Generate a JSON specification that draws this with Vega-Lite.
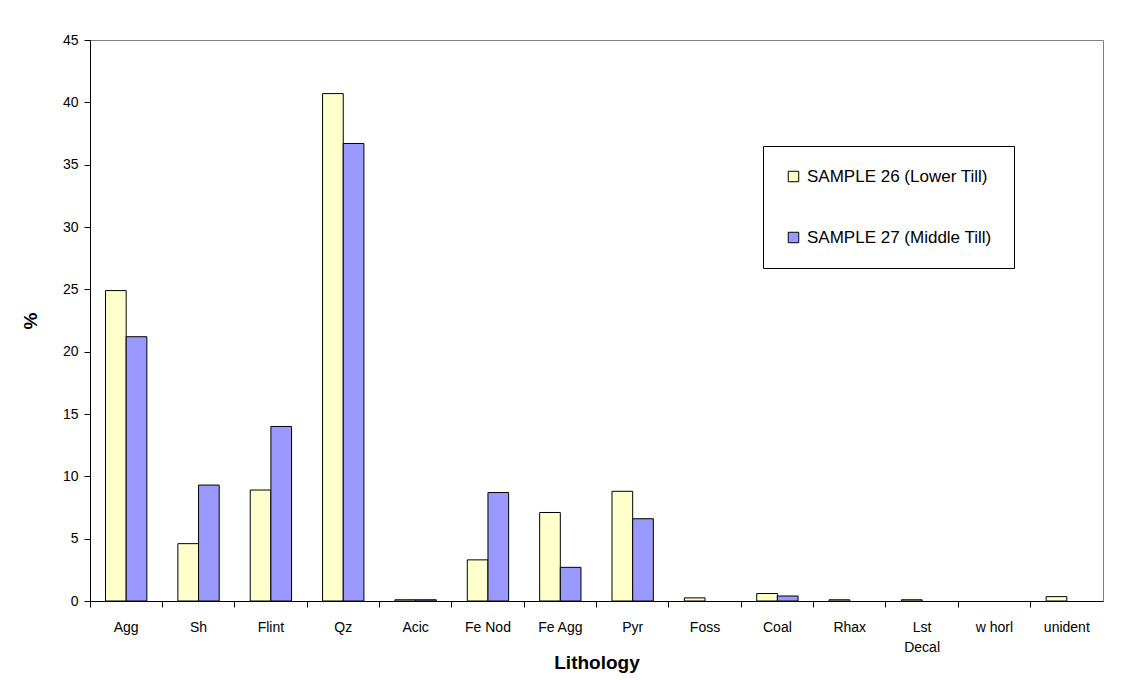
{
  "$schema": "https://vega.github.io/schema/vega-lite/v6.json",
  "autosize": "none",
  "width": 1013,
  "height": 561,
  "padding": {"left": 90, "top": 40, "right": 21, "bottom": 79},
  "background": "white",
  "config": {
    "font": "Liberation Sans",
    "view": {"stroke": "#808080", "strokeWidth": 1},
    "axis": {"labelColor": "black", "domainColor": "black", "tickColor": "black", "titleColor": "black", "grid": false, "labelFont": "Liberation Sans", "titleFont": "Liberation Sans"}
  },
  "data": {
    "values": [
      {"lith": "Agg", "sample": "SAMPLE 26 (Lower Till)", "pct": 24.9},
      {"lith": "Agg", "sample": "SAMPLE 27 (Middle Till)", "pct": 21.2},
      {"lith": "Sh", "sample": "SAMPLE 26 (Lower Till)", "pct": 4.6},
      {"lith": "Sh", "sample": "SAMPLE 27 (Middle Till)", "pct": 9.3},
      {"lith": "Flint", "sample": "SAMPLE 26 (Lower Till)", "pct": 8.9},
      {"lith": "Flint", "sample": "SAMPLE 27 (Middle Till)", "pct": 14.0},
      {"lith": "Qz", "sample": "SAMPLE 26 (Lower Till)", "pct": 40.7},
      {"lith": "Qz", "sample": "SAMPLE 27 (Middle Till)", "pct": 36.7},
      {"lith": "Acic", "sample": "SAMPLE 26 (Lower Till)", "pct": 0.1},
      {"lith": "Acic", "sample": "SAMPLE 27 (Middle Till)", "pct": 0.1},
      {"lith": "Fe Nod", "sample": "SAMPLE 26 (Lower Till)", "pct": 3.3},
      {"lith": "Fe Nod", "sample": "SAMPLE 27 (Middle Till)", "pct": 8.7},
      {"lith": "Fe Agg", "sample": "SAMPLE 26 (Lower Till)", "pct": 7.1},
      {"lith": "Fe Agg", "sample": "SAMPLE 27 (Middle Till)", "pct": 2.7},
      {"lith": "Pyr", "sample": "SAMPLE 26 (Lower Till)", "pct": 8.8},
      {"lith": "Pyr", "sample": "SAMPLE 27 (Middle Till)", "pct": 6.6},
      {"lith": "Foss", "sample": "SAMPLE 26 (Lower Till)", "pct": 0.25},
      {"lith": "Foss", "sample": "SAMPLE 27 (Middle Till)", "pct": 0},
      {"lith": "Coal", "sample": "SAMPLE 26 (Lower Till)", "pct": 0.6},
      {"lith": "Coal", "sample": "SAMPLE 27 (Middle Till)", "pct": 0.4},
      {"lith": "Rhax", "sample": "SAMPLE 26 (Lower Till)", "pct": 0.1},
      {"lith": "Rhax", "sample": "SAMPLE 27 (Middle Till)", "pct": 0},
      {"lith": "Lst Decal", "sample": "SAMPLE 26 (Lower Till)", "pct": 0.1},
      {"lith": "Lst Decal", "sample": "SAMPLE 27 (Middle Till)", "pct": 0},
      {"lith": "w horl", "sample": "SAMPLE 26 (Lower Till)", "pct": 0},
      {"lith": "w horl", "sample": "SAMPLE 27 (Middle Till)", "pct": 0},
      {"lith": "unident", "sample": "SAMPLE 26 (Lower Till)", "pct": 0.35},
      {"lith": "unident", "sample": "SAMPLE 27 (Middle Till)", "pct": 0}
    ]
  },
  "mark": {"type": "bar", "stroke": "black", "strokeWidth": 1},
  "encoding": {
    "x": {
      "field": "lith", "type": "nominal", "sort": null,
      "scale": {"paddingInner": 0, "paddingOuter": 0},
      "axis": {
        "title": "Lithology", "titleFontSize": 19, "titleFontWeight": "bold", "titleY": 67, "titleBaseline": "alphabetic",
        "labelAngle": 0, "labelFontSize": 14, "labelPadding": 13, "labelLineHeight": 20, "tickSize": 6, "bandPosition": 0,
        "labelExpr": "datum.label == 'Lst Decal' ? ['Lst', 'Decal'] : datum.label"
      }
    },
    "xOffset": {"field": "sample", "type": "nominal", "scale": {"paddingInner": 0, "paddingOuter": 0.75}},
    "y": {
      "field": "pct", "type": "quantitative",
      "scale": {"domain": [0, 45], "nice": false},
      "axis": {"title": "%", "titleFontSize": 19, "titleFontWeight": "bold", "titlePadding": 22, "values": [0,5,10,15,20,25,30,35,40,45], "labelFontSize": 14, "tickSize": 6, "labelPadding": 6}
    },
    "fill": {
      "field": "sample", "type": "nominal",
      "scale": {"domain": ["SAMPLE 26 (Lower Till)", "SAMPLE 27 (Middle Till)"], "range": ["#FFFFCC", "#9999FF"]},
      "legend": {
        "title": null, "orient": "none", "legendX": 673, "legendY": 106,
        "strokeColor": "black", "fillColor": "white", "padding": 22,
        "symbolType": "square", "symbolSize": 110, "symbolStrokeColor": "black", "symbolStrokeWidth": 1,
        "labelFontSize": 17, "labelColor": "black", "labelOffset": 5, "rowPadding": 43, "labelLimit": 300
      }
    },
    "opacity": {
      "condition": {"test": "datum.pct == 0", "value": 0},
      "value": 1
    }
  }
}
